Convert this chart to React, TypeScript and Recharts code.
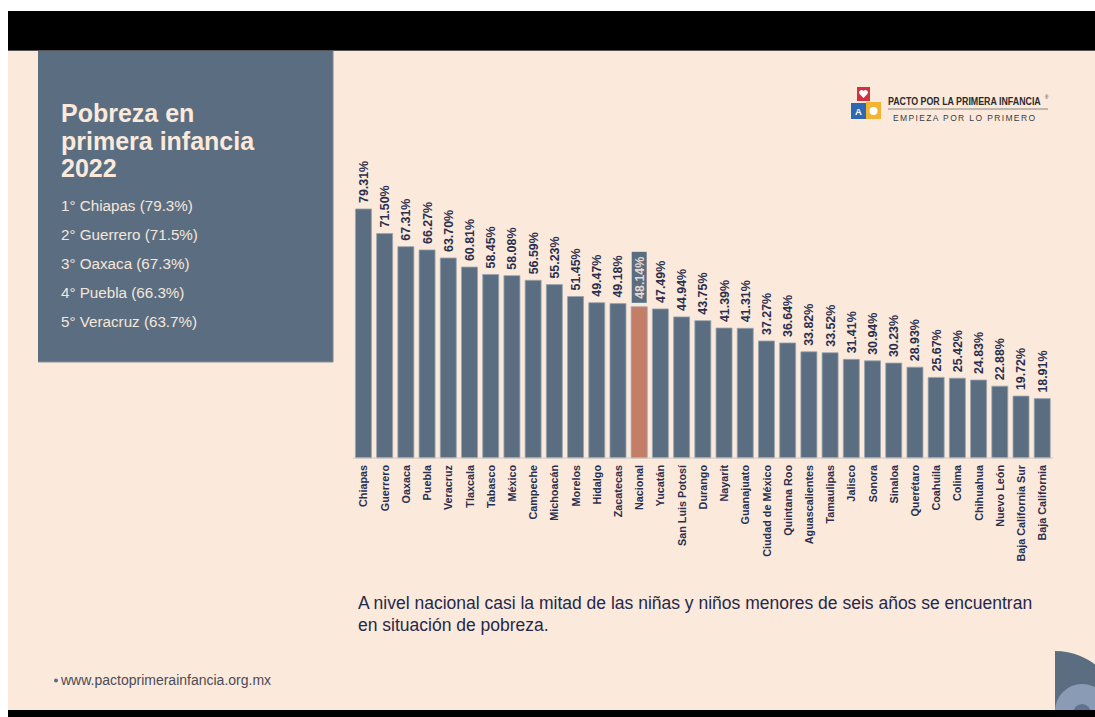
import React from 'react';
import { BarChart, Bar, XAxis, YAxis, Cell, LabelList } from 'recharts';

const categories = [
  'Chiapas', 'Guerrero', 'Oaxaca', 'Puebla', 'Veracruz', 'Tlaxcala', 'Tabasco', 'México',
  'Campeche', 'Michoacán', 'Morelos', 'Hidalgo', 'Zacatecas', 'Nacional', 'Yucatán',
  'San Luis Potosí', 'Durango', 'Nayarit', 'Guanajuato', 'Ciudad de México', 'Quintana Roo',
  'Aguascalientes', 'Tamaulipas', 'Jalisco', 'Sonora', 'Sinaloa', 'Querétaro', 'Coahuila',
  'Colima', 'Chihuahua', 'Nuevo León', 'Baja California Sur', 'Baja California',
];

const values = [
  79.31, 71.5, 67.31, 66.27, 63.7, 60.81, 58.45, 58.08, 56.59, 55.23, 51.45, 49.47, 49.18,
  48.14, 47.49, 44.94, 43.75, 41.39, 41.31, 37.27, 36.64, 33.82, 33.52, 31.41, 30.94, 30.23,
  28.93, 25.67, 25.42, 24.83, 22.88, 19.72, 18.91,
];

const highlight = 'Nacional';

const titleLines = ['Pobreza en', 'primera infancia', '2022'];
const topFive = [
  '1° Chiapas (79.3%)',
  '2° Guerrero (71.5%)',
  '3° Oaxaca (67.3%)',
  '4° Puebla (66.3%)',
  '5° Veracruz (63.7%)',
];
const noteLines = [
  'A nivel nacional casi la mitad de las niñas y niños menores de seis años se encuentran',
  'en situación de pobreza.',
];
const website = 'www.pactoprimerainfancia.org.mx';

const data = categories.map((name, i) => ({ name, value: values[i] }));

const FONT = '"Liberation Sans", Arial, Helvetica, sans-serif';
const CREAM = '#FBEADC';
const SLATE = '#5B6E81';
const SALMON = '#C47D66';
const NAVY = '#2B2F4E';

const XTick = (props: any) => {
  const { x, y, payload } = props;
  return (
    <text
      transform={`translate(${x},${y + 7}) rotate(-90)`}
      textAnchor="end"
      dy="0.36em"
      fontFamily={FONT}
      fontWeight="bold"
      fontSize={10.8}
      fill={NAVY}
    >
      {payload.value}
    </text>
  );
};

const ValueLabel = (props: any) => {
  const { x, y, width, value, index } = props;
  const cx = x + width / 2;
  const top = y - 6;
  const isHi = categories[index] === highlight;
  const label = `${Number(value).toFixed(2)}%`;
  return (
    <g>
      {isHi && (
        <rect x={cx - 7.5} y={top - 49} width={15} height={51} fill={SLATE} />
      )}
      <text
        transform={`translate(${cx},${isHi ? top - 2 : top}) rotate(-90)`}
        textAnchor="start"
        dy="0.36em"
        fontFamily={FONT}
        fontWeight="bold"
        fontSize={12.4}
        fill={isHi ? '#E9D9CD' : NAVY}
      >
        {label}
      </text>
    </g>
  );
};

const Background = () => (
  <svg width={1095} height={717} style={{ position: 'absolute', left: 0, top: 0 }}>
    <rect x={0} y={0} width={1095} height={717} fill="#ffffff" />
    <rect x={8} y={11} width={1087} height={39} fill="#000000" />
    <rect x={8} y={50} width={1087} height={660} fill={CREAM} />
    <line x1={8} x2={1095} y1={50.5} y2={50.5} stroke="#555" strokeWidth={1} />
    {/* title box */}
    <rect x={38} y={51} width={295} height={311} fill={SLATE} />
    <line x1={38} x2={333} y1={362} y2={362} stroke="#8b8f96" strokeWidth={1} />
    <line x1={333} x2={333} y1={51} y2={362} stroke="#7d848e" strokeWidth={1} />
    {titleLines.map((t, i) => (
      <text
        key={t}
        x={61}
        y={122 + i * 27.5}
        fontFamily={FONT}
        fontWeight="bold"
        fontSize={25}
        fill={CREAM}
      >
        {t}
      </text>
    ))}
    {topFive.map((t, i) => (
      <text key={t} x={61} y={210.5 + i * 29} fontFamily={FONT} fontSize={15.2} fill="#F5E6DA">
        {t}
      </text>
    ))}
    {/* logo */}
    <rect x={857} y={87} width={13} height={14} fill="#D2313F" />
    <path
      d="M863.5,98 L859.6,94 A2,2 0 0,1 863.5,91 A2,2 0 0,1 867.4,94 Z"
      fill="#ffffff"
    />
    <rect x={851} y={103} width={15} height={16} fill="#2F68B2" />
    <text x={858.5} y={115} textAnchor="middle" fontFamily={FONT} fontWeight="bold" fontSize={9.5} fill="#ffffff">
      A
    </text>
    <rect x={866} y={102} width={15} height={17} fill="#F2B431" />
    <circle cx={873.5} cy={111} r={4} fill="#ffffff" />
    <text
      transform="translate(888,105) scale(0.82,1)"
      fontFamily={FONT}
      fontWeight="bold"
      fontSize={10.8}
      fill="#2a2a2e"
    >
      PACTO POR LA PRIMERA INFANCIA
    </text>
    <text x={1045} y={99} fontFamily={FONT} fontSize={4.5} fill="#2a2a2e">
      ®
    </text>
    <line x1={888} x2={1048} y1={109} y2={109} stroke="#6a6a6a" strokeWidth={0.8} />
    <text
      x={893}
      y={120.5}
      textLength={142}
      lengthAdjust="spacing"
      fontFamily={FONT}
      fontSize={8.5}
      fill="#3a3a3e"
    >
      EMPIEZA POR LO PRIMERO
    </text>
    {/* note */}
    {noteLines.map((t, i) => (
      <text key={t} x={358} y={609 + i * 22} fontFamily={FONT} fontSize={17.5} fill="#25284A">
        {t}
      </text>
    ))}
    {/* website */}
    <circle cx={56} cy={680.5} r={2} fill="#5B6E81" />
    <text x={61} y={684.5} fontFamily={FONT} fontSize={14} fill="#4a4a55">
      {website}
    </text>
    {/* corner decoration */}
    <path d="M1055,717 L1055,651 A66,66 0 0,1 1121,717 Z" fill={SLATE} />
    <circle cx={1082} cy={711} r={27} fill="#8A9BB6" />
    <circle cx={1082} cy={713} r={9} fill="#60738F" />
    <rect x={8} y={710} width={1087} height={7} fill="#000000" />
  </svg>
);

export default function App() {
  return (
    <div
      style={{
        position: 'fixed',
        left: 0,
        top: 0,
        width: 1095,
        height: 717,
        overflow: 'hidden',
        fontFamily: FONT,
      }}
    >
      <Background />
      <div style={{ position: 'absolute', left: 0, top: 0 }}>
        <BarChart
          width={1095}
          height={717}
          data={data}
          margin={{ top: 144, right: 42, left: 353, bottom: 129 }}
          barCategoryGap="11.5%"
        >
          <XAxis
            dataKey="name"
            interval={0}
            height={130}
            tickLine={false}
            tickSize={0}
            tickMargin={0}
            axisLine={{ stroke: '#cfc8c2', strokeWidth: 1 }}
            tick={<XTick />}
          />
          <YAxis hide domain={[0, 100]} />
          <Bar dataKey="value" isAnimationActive={false} stroke="#98a4b1" strokeWidth={0.8}>
            {data.map((d) => (
              <Cell key={d.name} fill={d.name === highlight ? SALMON : SLATE} />
            ))}
            <LabelList dataKey="value" content={<ValueLabel />} />
          </Bar>
        </BarChart>
      </div>
    </div>
  );
}
